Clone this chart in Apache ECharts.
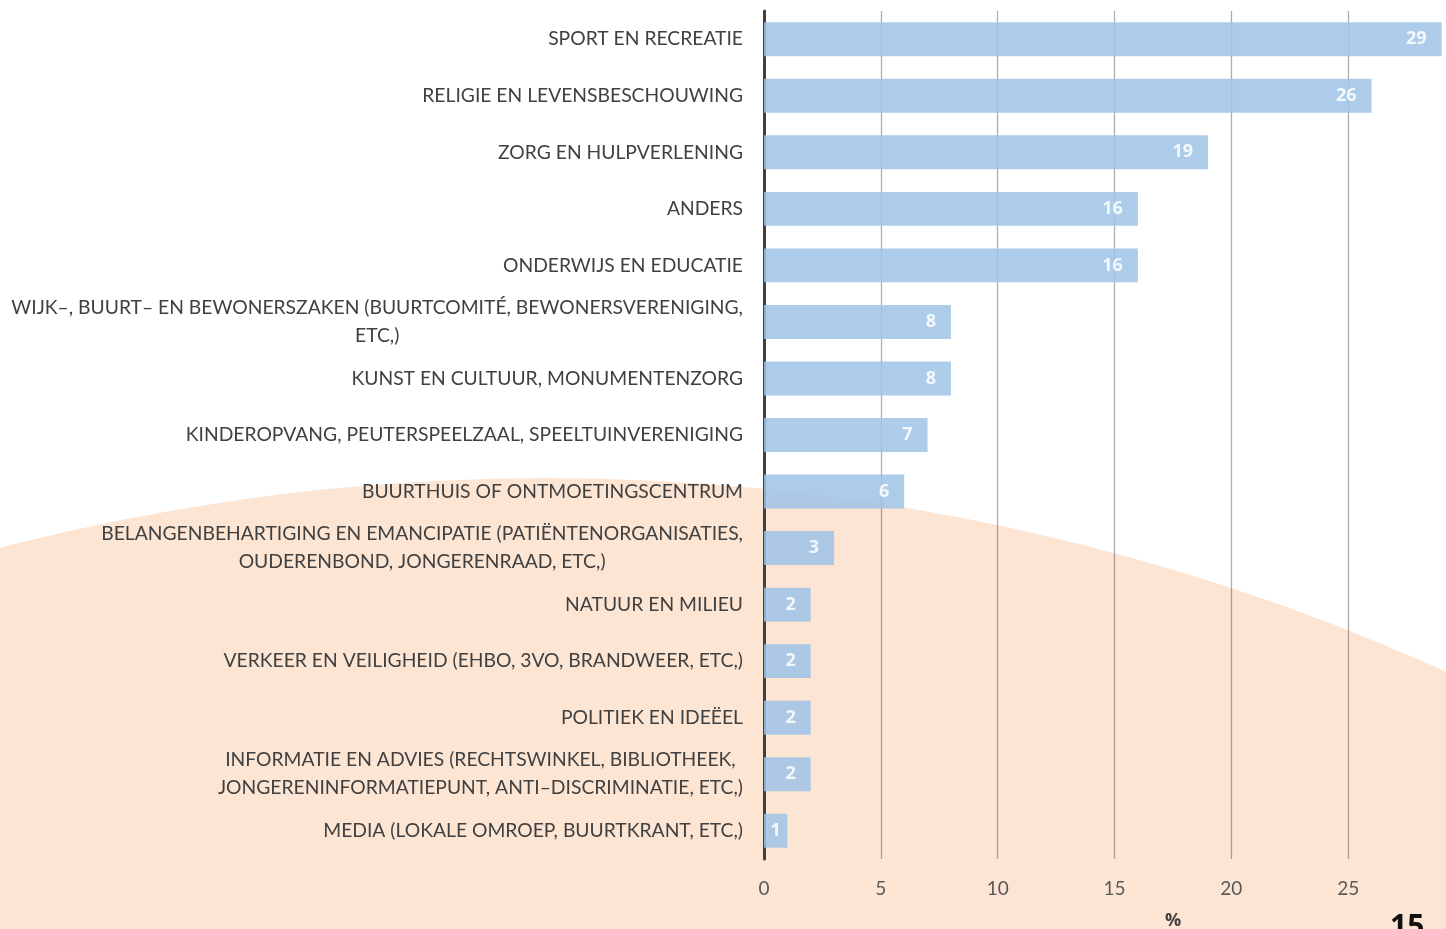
<!DOCTYPE html>
<html>
<head>
<meta charset="utf-8">
<script src="https://cdn.jsdelivr.net/npm/echarts@6/dist/echarts.min.js"></script>
<style>
html,body{margin:0;padding:0;background:#fff;}
#chart{width:1446px;height:929px;}
</style>
</head>
<body>
<div id="chart"></div>
<script>
const categories = [
  "SPORT EN RECREATIE",
  "RELIGIE EN LEVENSBESCHOUWING",
  "ZORG EN HULPVERLENING",
  "ANDERS",
  "ONDERWIJS EN EDUCATIE",
  "WIJK–, BUURT– EN BEWONERSZAKEN (BUURTCOMITÉ, BEWONERSVERENIGING,\nETC,)",
  "KUNST EN CULTUUR, MONUMENTENZORG",
  "KINDEROPVANG, PEUTERSPEELZAAL, SPEELTUINVERENIGING",
  "BUURTHUIS OF ONTMOETINGSCENTRUM",
  "BELANGENBEHARTIGING EN EMANCIPATIE (PATIËNTENORGANISATIES,\nOUDERENBOND, JONGERENRAAD, ETC,)",
  "NATUUR EN MILIEU",
  "VERKEER EN VEILIGHEID (EHBO, 3VO, BRANDWEER, ETC,)",
  "POLITIEK EN IDEËEL",
  "INFORMATIE EN ADVIES (RECHTSWINKEL, BIBLIOTHEEK,\nJONGERENINFORMATIEPUNT, ANTI–DISCRIMINATIE, ETC,)",
  "MEDIA (LOKALE OMROEP, BUURTKRANT, ETC,)"
];
const values = [29, 26, 19, 16, 16, 8, 8, 7, 6, 3, 2, 2, 2, 2, 1];
const axisTitle = "%";
const pageNumber = "15";

const FONT = "Lato";
const LABEL_FONT = "Open Sans";
const chart = echarts.init(document.getElementById('chart'), null, {renderer: 'canvas'});
chart.setOption({
  backgroundColor: '#ffffff',
  animation: false,
  graphic: [
    { type: 'circle', z: -10, silent: true,
      shape: { cx: 547, cy: 2661, r: 2183 },
      style: { fill: '#FDE5D4' } },
    { type: 'text', left: 1165, top: 912, z: 10,
      style: { text: axisTitle, font: 'bold 18px ' + LABEL_FONT, fill: '#404040' } },
    { type: 'text', left: 1390, top: 912, z: 10,
      style: { text: pageNumber, font: 'bold 30px ' + LABEL_FONT, fill: '#111111' } }
  ],
  grid: { left: 764, right: -19, top: 11, bottom: 70, containLabel: false, outerBoundsMode: 'none' },
  xAxis: {
    type: 'value', min: 0, max: 30, interval: 5,
    axisLine: { show: false }, axisTick: { show: false },
    splitLine: { show: true, lineStyle: { color: 'rgba(0,0,0,0.32)', width: 1.3 } },
    axisLabel: { color: '#595959', fontFamily: FONT, fontSize: 19, margin: 20 }
  },
  yAxis: {
    type: 'category', inverse: true, data: categories,
    axisLine: { show: true, lineStyle: { color: '#404040', width: 3 } },
    axisTick: { show: false },
    axisLabel: {
      color: '#404040', fontFamily: FONT, fontSize: 19.3, margin: 21, align: 'right',
      lineHeight: 28, interval: 0,
      formatter: v => v.split('\n').map(s => '{c|' + s + '}').join('\n'),
      rich: { c: { align: 'center', color: '#404040', fontFamily: FONT, fontSize: 19.3, lineHeight: 28 } }
    }
  },
  series: [{
    type: 'bar',
    data: values.map(v => v < 2 ? { value: v, label: { position: 'inside' } } : v),
    barCategoryGap: '40%',
    itemStyle: { color: '#9DC3E6', opacity: 0.85 },
    label: { show: true, position: 'insideRight', distance: 15, color: '#ffffff',
      fontFamily: LABEL_FONT, fontWeight: 'bold', fontSize: 18 }
  }]
});
</script>
</body>
</html>
